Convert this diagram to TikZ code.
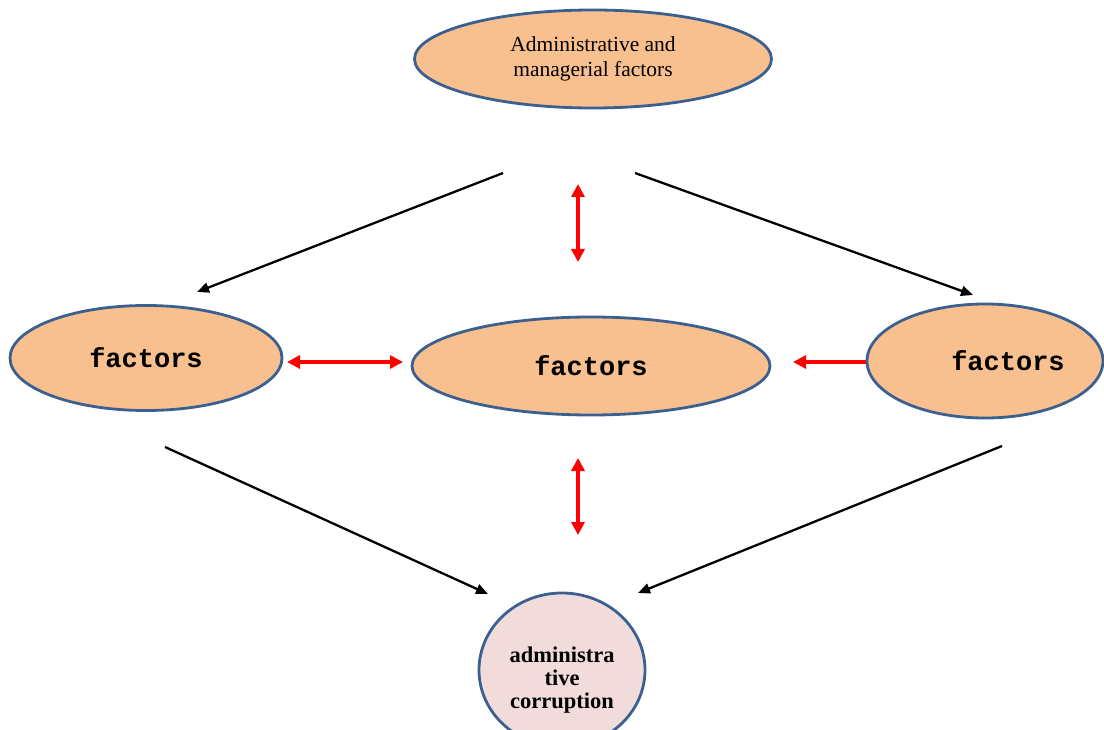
\documentclass[tikz,border=0pt]{standalone}
\usepackage{fontspec}
\setmainfont{Liberation Serif}
\newfontfamily\courierb{Liberation Mono}
\usetikzlibrary{shapes.geometric,arrows.meta}
\definecolor{fillor}{HTML}{F9C08F}
\definecolor{edgeblue}{HTML}{3B6090}
\definecolor{fillpink}{HTML}{F2DCDB}
\definecolor{redarr}{HTML}{FF0000}
\begin{document}
\begin{tikzpicture}[x=1pt,y=-1pt,
  oval/.style={ellipse,draw=edgeblue,fill=fillor,line width=2.8pt,inner sep=0pt},
  blk/.style={-{Triangle[length=12pt,width=10pt]},line width=2.3pt,black},
  redtwo/.style={{Triangle[length=13pt,width=13pt]}-{Triangle[length=13pt,width=13pt]},line width=3.4pt,redarr},
  redone/.style={-{Triangle[length=13pt,width=13pt]},line width=3.4pt,redarr},
  factxt/.style={font=\courierb\bfseries\fontsize{27}{29}\selectfont},
  corrtxt/.style={font=\bfseries\fontsize{22.5}{23}\selectfont,align=center},
]
\useasboundingbox (0,0) rectangle (1104,730);
\clip (0,0) rectangle (1104,730);
% nodes
\node[oval,minimum width=357pt,minimum height=98pt,align=center,
      font=\fontsize{21.5}{25}\selectfont] (top) at (593,59) {Administrative and\\managerial factors};
\node[oval,minimum width=272pt,minimum height=105pt,factxt] (lf) at (146,358) {factors};
\node[oval,minimum width=358pt,minimum height=98pt,factxt] (mid) at (591,366) {factors};
\node[oval,minimum width=236pt,minimum height=114pt] (rt) at (985,361) {};
\node[factxt] (rttxt) at (1008,361) {factors};
\node[ellipse,draw=edgeblue,fill=fillpink,line width=2.8pt,inner sep=0pt,
      minimum width=166pt,minimum height=154pt] (bot) at (562,670) {};
\node[corrtxt] (bottxt) at (562,680) {administra\\tive\\corruption};
% free ends of connectors
\coordinate (a1s) at (503,173); \coordinate (a1e) at (197,292);
\coordinate (a2s) at (635,173); \coordinate (a2e) at (973,295);
\coordinate (a3s) at (165,447); \coordinate (a3e) at (488,594);
\coordinate (a4s) at (1002,446); \coordinate (a4e) at (638,593);
\coordinate (r1a) at (578,184); \coordinate (r1b) at (578,262);
\coordinate (r2a) at (287,362); \coordinate (r2b) at (403,362);
\coordinate (r3e) at (793,362);
\coordinate (r4a) at (578,458); \coordinate (r4b) at (578,535);
% connectors
\draw[blk] (a1s) -- (a1e);
\draw[blk] (a2s) -- (a2e);
\draw[blk] (a3s) -- (a3e);
\draw[blk] (a4s) -- (a4e);
\draw[redtwo] (r1a) -- (r1b);
\draw[redtwo] (r2a) -- (r2b);
\draw[redone] (rt.west |- r3e) -- (r3e);
\draw[redtwo] (r4a) -- (r4b);
\end{tikzpicture}
\end{document}
